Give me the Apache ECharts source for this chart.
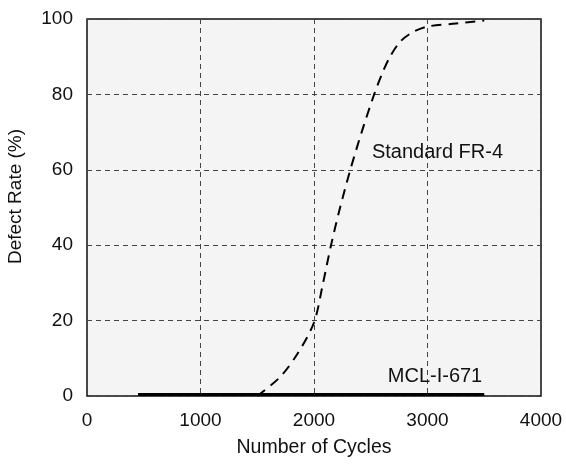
<!DOCTYPE html>
<html>
<head>
<meta charset="utf-8">
<script src="https://cdn.jsdelivr.net/npm/echarts@6/dist/echarts.min.js"></script>
<style>
  html, body { margin: 0; padding: 0; background: #fff; }
  #chart { width: 566px; height: 464px; }
</style>
</head>
<body>
<div id="chart"></div>
<script>
// 循环次数与缺陷率
var xTicks = [0, 1000, 2000, 3000, 4000];
var yTicks = [0, 20, 40, 60, 80, 100];

// Standard FR-4 曲线
var fr4Cycles = [1500, 1700, 1850, 2000, 2080, 2150, 2230, 2320, 2420, 2530, 2600, 2670, 2760, 2870, 3000, 3250, 3500];
var fr4Rate = [0, 5, 11, 19.5, 30, 40, 50, 60, 70, 80, 85.5, 90, 94, 96.5, 98, 98.8, 99.6];

// MCL-I-671 曲线
var mclCycles = [450, 3500];
var mclRate = [0.4, 0.4];

var labelFR4 = { name: 'Standard FR-4', x: 2510, y: 64.7 };
var labelMCL = { name: 'MCL-I-671', x: 2650, y: 5.3 };

function pairs(xs, ys) {
    var arr = [];
    for (var i = 0; i < xs.length; i++) {
        arr.push([xs[i], ys[i]]);
    }
    return arr;
}

var font = '"Liberation Sans", Arial, sans-serif';
var chart = echarts.init(document.getElementById('chart'));

var option = {
    animation: false,
    grid: {
        left: 87,
        right: 25,
        top: 19,
        bottom: 68,
        containLabel: false,
        outerBoundsMode: 'none',
        show: true,
        backgroundColor: '#f4f4f4',
        borderColor: '#111',
        borderWidth: 1.5
    },
    xAxis: {
        type: 'value',
        min: xTicks[0],
        max: xTicks[xTicks.length - 1],
        interval: 1000,
        name: 'Number of Cycles',
        nameLocation: 'middle',
        nameGap: 42,
        nameTextStyle: { fontFamily: font, fontSize: 19.5, color: '#111' },
        axisLine: { show: false },
        axisTick: { show: false },
        axisLabel: {
            fontFamily: font, fontSize: 19, color: '#111', margin: 15,
            formatter: function (v) { return String(v); }
        },
        splitLine: { lineStyle: { type: [5, 4], color: '#444', width: 1 } }
    },
    yAxis: {
        type: 'value',
        min: yTicks[0],
        max: yTicks[yTicks.length - 1],
        interval: 20,
        name: 'Defect Rate (%)',
        nameLocation: 'middle',
        nameGap: 62,
        nameTextStyle: { fontFamily: font, fontSize: 19, color: '#111', padding: [0, 0, 0, 22] },
        axisLine: { show: false },
        axisTick: { show: false },
        axisLabel: { fontFamily: font, fontSize: 19, color: '#111', margin: 14 },
        splitLine: { lineStyle: { type: [5, 4], color: '#444', width: 1 } }
    },
    series: [
        {
            name: 'Standard FR-4',
            type: 'line',
            data: pairs(fr4Cycles, fr4Rate),
            smooth: 0.3,
            showSymbol: false,
            lineStyle: { color: '#000', width: 2, type: [10, 7] },
            markPoint: {
                symbolSize: 0,
                data: [{ coord: [labelFR4.x, labelFR4.y], value: labelFR4.name }],
                label: {
                    show: true, position: 'right', distance: 0,
                    formatter: labelFR4.name,
                    fontFamily: font, fontSize: 20, color: '#111'
                }
            }
        },
        {
            name: 'MCL-I-671',
            type: 'line',
            data: pairs(mclCycles, mclRate),
            showSymbol: false,
            lineStyle: { color: '#000', width: 3 },
            markPoint: {
                symbolSize: 0,
                data: [{ coord: [labelMCL.x, labelMCL.y], value: labelMCL.name }],
                label: {
                    show: true, position: 'right', distance: 0,
                    formatter: labelMCL.name,
                    fontFamily: font, fontSize: 20, color: '#111'
                }
            }
        }
    ]
};
chart.setOption(option);
</script>
</body>
</html>
